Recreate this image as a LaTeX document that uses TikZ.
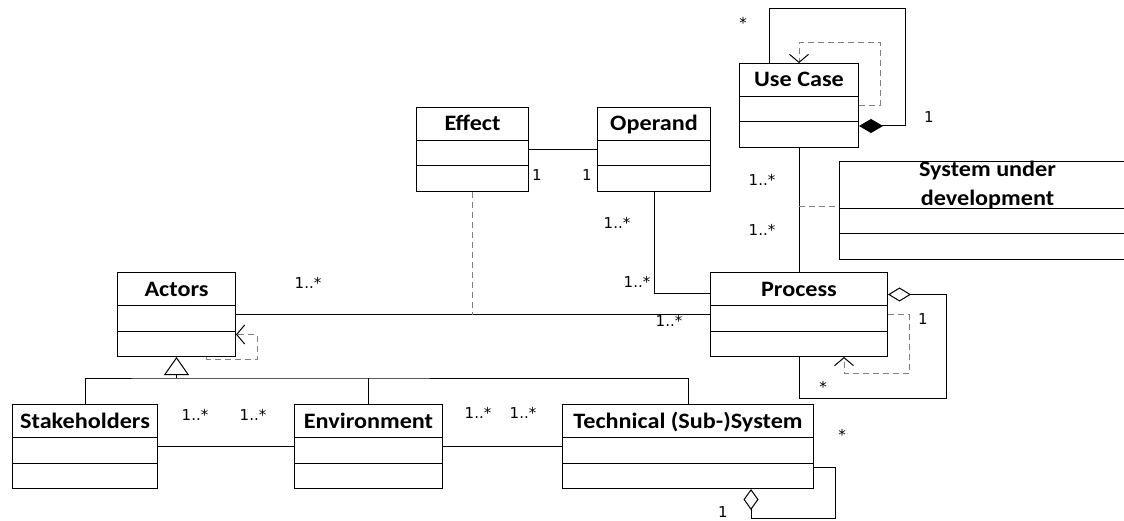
\documentclass[tikz,border=0pt]{standalone}
\usepackage{fontspec}
\setmainfont{Carlito}[FakeStretch=1.1]
\newfontfamily\multfont{DejaVu Sans}
\usetikzlibrary{shapes.multipart,arrows.meta}
\newcommand{\ctitle}[1]{\rule[-9pt]{0pt}{32pt}#1}

\begin{document}
\begin{tikzpicture}
[x=1pt, y=-1pt, line width=1pt]
\tikzstyle{umlclass}=[rectangle split, rectangle split parts=3, draw, anchor=north west, inner xsep=0pt, inner ysep=0pt, rectangle split empty part height=17pt, rectangle split empty part depth=7.5pt, font=\fontsize{22}{26}\selectfont\bfseries]
\tikzstyle{mult}=[font=\multfont\fontsize{15}{17}\selectfont, inner sep=0pt]
\tikzstyle{dep}=[gray, dash pattern=on 6pt off 4pt]
\tikzstyle{barb}=[-{Straight Barb[length=8pt,width=19pt,color=black]}]
\useasboundingbox (0,0) rectangle (1124,521);

\node[umlclass, minimum width=119pt]	(uc)	at (739,63)	{\ctitle{Use Case}};
\node[umlclass, minimum width=177pt]	(proc)	at (710,272)	{\ctitle{Process}};
\node[umlclass, minimum width=296pt]	(sud)	at (839,161)	{\parbox[c][46pt][c]{220pt}{\centering System under\\[3pt]development}};
\node[umlclass, minimum width=112pt]	(eff)	at (416,107)	{\ctitle{Effect}};
\node[umlclass, minimum width=113pt]	(op)	at (597,107)	{\ctitle{Operand}};
\node[umlclass, minimum width=118pt]	(act)	at (117,272)	{\ctitle{Actors}};
\node[umlclass, minimum width=145pt]	(stk)	at (12,404)	{\ctitle{Stakeholders}};
\node[umlclass, minimum width=148pt]	(env)	at (294,404)	{\ctitle{Environment}};
\node[umlclass, minimum width=251pt]	(tech)	at (562,404)	{\ctitle{Technical (Sub-)System}};

\coordinate (sudj) at ([yshift=-46pt]sud.north west);
\coordinate (gen) at ([yshift=-21pt]act.south);

% use case
\draw[-{Diamond[length=24pt,width=14pt]}] ([xshift=-30pt]uc.north) |- (905,9) |- ([yshift=-20.5pt]uc.east);
\draw[dep,barb] (uc.east) -| (880,43) -| (uc.north);
\draw (uc.south) -- (proc.north);
\draw[dep] (sudj -| uc.south) -- (sudj);

% process
\draw[-{Diamond[open,length=23pt,width=14pt]}] (proc.south) |- (946,398) |- ([yshift=20pt]proc.east);
\draw[dep,barb] (proc.east) -| (909,373) -| ([xshift=45pt]proc.south);
\draw (op.south) |- ([yshift=21pt]proc.west);
\draw (eff.east) -- (op.west);
\draw (act.east) -- (proc.west);
\draw[dep] (eff.south) -- (eff.south |- act.east);

% actors
\draw[dep,barb] ([xshift=30pt]act.south) |- (257,359) |- ([yshift=-20pt]act.east);
\draw (stk.north) |- (gen) -| (tech.north);
\draw (env.north) -- (env.north |- gen);
\draw[-{Triangle[open,length=18pt,width=25pt]}] (gen) -- (act.south);
\draw (stk.east) -- (env.west);
\draw (env.east) -- (tech.west);
\draw[-{Diamond[open,length=21pt,width=15pt]}] ([yshift=-21pt]tech.east) -| (835,518) -| ([xshift=63pt]tech.south);

% multiplicities
\node[mult] (m1)  at (743,23)  {*};
\node[mult] (m2)  at (929,117) {1};
\node[mult] (m3)  at (762,180) {1..*};
\node[mult] (m4)  at (762,230) {1..*};
\node[mult] (m5)  at (537,175) {1};
\node[mult] (m6)  at (587,175) {1};
\node[mult] (m7)  at (617,223) {1..*};
\node[mult] (m8)  at (637,282) {1..*};
\node[mult] (m9)  at (308,283) {1..*};
\node[mult] (m10) at (669,321) {1..*};
\node[mult] (m11) at (923,319) {1};
\node[mult] (m12) at (823,387) {*};
\node[mult] (m13) at (195,415) {1..*};
\node[mult] (m14) at (253,415) {1..*};
\node[mult] (m15) at (478,413) {1..*};
\node[mult] (m16) at (523,413) {1..*};
\node[mult] (m17) at (842,435) {*};
\node[mult] (m18) at (723,512) {1};
\end{tikzpicture}
\end{document}
